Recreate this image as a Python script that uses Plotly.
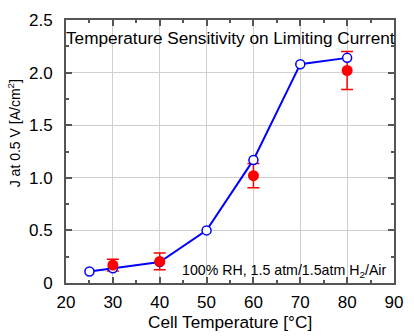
import plotly.graph_objects as go

# Limiting-current measurements vs. cell temperature
temp_model = [25, 30, 40, 50, 60, 70, 80]
j_model = [0.11, 0.14, 0.20, 0.50, 1.17, 2.08, 2.14]

temp_meas = [30, 40, 60, 80]
j_meas = [0.17, 0.205, 1.02, 2.02]
j_meas_err = [0.055, 0.08, 0.115, 0.18]

y_tickvals = [0, 0.5, 1.0, 1.5, 2.0, 2.5]
y_ticktext = ["0", "0.5", "1.0", "1.5", "2.0", "2.5"]
x_tickvals = [20, 30, 40, 50, 60, 70, 80, 90]

BLUE = "#0000ff"
RED = "#ff0000"
FONT = "Liberation Sans, Arial, sans-serif"

fig = go.Figure()

# connecting line of the open-circle series (drawn underneath)
fig.add_trace(go.Scatter(
    x=temp_model, y=j_model, mode="lines",
    line=dict(color=BLUE, width=2), hoverinfo="skip", showlegend=False,
))

# error bars of the measured points
fig.add_trace(go.Scatter(
    x=temp_meas, y=j_meas, mode="markers",
    marker=dict(size=10, color=RED, opacity=0),
    error_y=dict(type="data", array=j_meas_err, color=RED, thickness=1.5, width=6),
    hoverinfo="skip", showlegend=False,
))

# open circles
fig.add_trace(go.Scatter(
    x=temp_model, y=j_model, mode="markers",
    marker=dict(size=9, color="white", line=dict(color=BLUE, width=1.5)),
    showlegend=False,
))

# filled measured points
fig.add_trace(go.Scatter(
    x=temp_meas, y=j_meas, mode="markers",
    marker=dict(size=11, color=RED),
    showlegend=False,
))

axis_common = dict(
    showline=True, linecolor="#555555", linewidth=2, mirror="ticks",
    ticks="inside", ticklen=6, tickwidth=1.5, tickcolor="#555555",
    showgrid=True, gridcolor="#d0d0d0", gridwidth=1,
    zeroline=False,
    tickfont=dict(family=FONT, size=17, color="black"),
)

fig.update_xaxes(
    range=[20, 90], tickvals=x_tickvals,
    minor=dict(dtick=5, ticks="inside", ticklen=3, tickcolor="#555555", showgrid=False),
    ticklabelstandoff=3,
    **axis_common,
)
fig.update_yaxes(
    range=[0, 2.5], tickvals=y_tickvals, ticktext=y_ticktext,
    minor=dict(dtick=0.25, ticks="inside", ticklen=3, tickcolor="#555555", showgrid=False),
    ticklabelstandoff=8,
    **axis_common,
)

fig.add_annotation(
    text="Temperature Sensitivity on Limiting Current",
    xref="paper", yref="paper", x=0.5, y=0.933,
    xanchor="center", yanchor="middle", showarrow=False,
    font=dict(family=FONT, size=17.2, color="black"),
)
fig.add_annotation(
    text="100% RH, 1.5 atm/1.5atm H<sub>2</sub>/Air",
    xref="paper", yref="paper", x=0.985, y=0.045,
    xanchor="right", yanchor="middle", showarrow=False,
    font=dict(family=FONT, size=14.2, color="black"),
)
fig.add_annotation(
    text="Cell Temperature [°C]",
    xref="paper", yref="paper", x=0.501, y=-0.149,
    xanchor="center", yanchor="middle", showarrow=False,
    font=dict(family=FONT, size=17.2, color="black"),
)
fig.add_annotation(
    text="J at 0.5 V [A/cm<sup>2</sup>]",
    xref="paper", yref="paper", x=-0.158, y=0.57,
    xanchor="center", yanchor="middle", textangle=-90, showarrow=False,
    font=dict(family=FONT, size=14, color="black"),
)

fig.update_layout(
    width=414, height=336,
    margin=dict(l=66, r=11, t=15, b=53),
    paper_bgcolor="white", plot_bgcolor="white",
    showlegend=False,
)

fig.write_html("out.html")
